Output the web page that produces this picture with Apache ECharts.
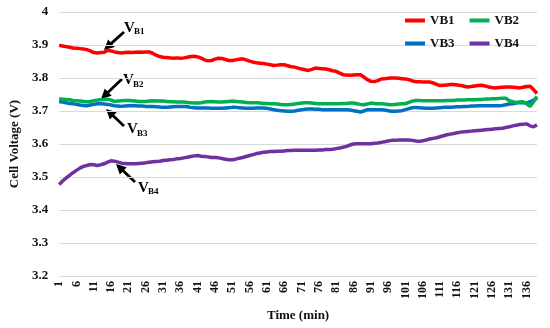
<!DOCTYPE html>
<html><head><meta charset="utf-8">
<script src="https://cdn.jsdelivr.net/npm/echarts@6/dist/echarts.min.js"></script>
<style>html,body{margin:0;padding:0;background:#fff}#c{width:550px;height:328px}</style>
</head><body><div id="c"></div>
<script>
const categories = Array.from({length:139}, (_, i) => String(i + 1));
const seriesNames = ['VB1','VB2','VB3','VB4'];
const vb1 = [
3.899,3.897,3.895,3.893,3.891,3.890,3.889,3.888,3.886,3.882,
3.877,3.876,3.877,3.878,3.884,3.882,3.879,3.877,3.876,3.877,
3.878,3.877,3.878,3.879,3.878,3.879,3.879,3.875,3.869,3.865,
3.863,3.862,3.861,3.860,3.861,3.860,3.861,3.863,3.865,3.866,
3.864,3.860,3.855,3.852,3.853,3.857,3.860,3.859,3.856,3.853,
3.853,3.855,3.857,3.858,3.855,3.851,3.848,3.846,3.845,3.844,
3.842,3.840,3.838,3.839,3.840,3.840,3.837,3.834,3.833,3.830,
3.827,3.825,3.823,3.826,3.830,3.829,3.828,3.827,3.825,3.822,
3.820,3.815,3.810,3.809,3.808,3.809,3.810,3.810,3.803,3.795,
3.790,3.789,3.792,3.797,3.798,3.799,3.800,3.800,3.799,3.798,
3.797,3.795,3.791,3.789,3.789,3.788,3.788,3.788,3.785,3.781,
3.777,3.778,3.779,3.780,3.780,3.779,3.777,3.775,3.773,3.774,
3.776,3.777,3.778,3.776,3.773,3.771,3.770,3.771,3.772,3.773,
3.773,3.772,3.771,3.770,3.772,3.774,3.775,3.765,3.753];
const vb2 = [
3.737,3.736,3.735,3.734,3.732,3.731,3.730,3.729,3.728,3.729,
3.731,3.733,3.734,3.735,3.736,3.733,3.729,3.730,3.731,3.732,
3.732,3.731,3.730,3.729,3.729,3.729,3.730,3.731,3.730,3.730,
3.730,3.729,3.728,3.728,3.727,3.727,3.727,3.726,3.725,3.724,
3.724,3.725,3.727,3.728,3.729,3.728,3.727,3.727,3.728,3.729,
3.730,3.729,3.728,3.727,3.726,3.725,3.725,3.725,3.724,3.723,
3.723,3.722,3.722,3.721,3.720,3.719,3.719,3.720,3.721,3.723,
3.724,3.725,3.725,3.724,3.723,3.722,3.722,3.722,3.722,3.722,
3.722,3.722,3.723,3.723,3.724,3.724,3.722,3.720,3.719,3.721,
3.724,3.723,3.722,3.722,3.721,3.720,3.719,3.720,3.721,3.722,
3.722,3.726,3.730,3.732,3.732,3.731,3.731,3.731,3.731,3.731,
3.731,3.731,3.732,3.732,3.732,3.733,3.733,3.733,3.734,3.734,
3.734,3.735,3.735,3.736,3.736,3.737,3.737,3.738,3.739,3.739,
3.731,3.728,3.726,3.727,3.728,3.722,3.714,3.728,3.744];
const vb3 = [
3.729,3.727,3.725,3.723,3.722,3.720,3.718,3.717,3.716,3.718,
3.720,3.722,3.722,3.721,3.720,3.718,3.716,3.715,3.714,3.715,
3.716,3.716,3.716,3.715,3.715,3.714,3.714,3.714,3.713,3.712,
3.711,3.711,3.712,3.713,3.714,3.714,3.714,3.713,3.711,3.710,
3.709,3.709,3.709,3.709,3.708,3.708,3.708,3.708,3.709,3.710,
3.711,3.711,3.710,3.709,3.708,3.708,3.708,3.709,3.709,3.709,
3.708,3.706,3.704,3.702,3.701,3.700,3.699,3.699,3.700,3.702,
3.704,3.705,3.706,3.706,3.705,3.705,3.704,3.704,3.704,3.704,
3.704,3.704,3.704,3.704,3.703,3.701,3.699,3.697,3.700,3.704,
3.704,3.704,3.704,3.704,3.703,3.701,3.699,3.699,3.700,3.701,
3.704,3.707,3.710,3.711,3.710,3.709,3.708,3.708,3.708,3.709,
3.710,3.711,3.711,3.711,3.712,3.713,3.713,3.714,3.714,3.715,
3.715,3.716,3.716,3.716,3.716,3.716,3.716,3.716,3.717,3.719,
3.721,3.722,3.724,3.726,3.725,3.724,3.728,3.733,3.739];
const vb4 = [
3.477,3.488,3.497,3.505,3.513,3.520,3.527,3.532,3.535,3.538,
3.537,3.535,3.537,3.540,3.545,3.549,3.548,3.545,3.542,3.541,
3.540,3.540,3.540,3.541,3.542,3.543,3.545,3.546,3.547,3.548,
3.550,3.551,3.552,3.553,3.555,3.556,3.558,3.560,3.562,3.564,
3.565,3.563,3.562,3.561,3.559,3.559,3.558,3.556,3.554,3.552,
3.552,3.554,3.557,3.559,3.562,3.565,3.568,3.571,3.573,3.575,
3.576,3.577,3.577,3.578,3.578,3.579,3.580,3.580,3.581,3.581,
3.581,3.581,3.581,3.581,3.581,3.582,3.582,3.583,3.583,3.584,
3.586,3.588,3.590,3.593,3.597,3.600,3.601,3.601,3.601,3.601,
3.601,3.602,3.603,3.605,3.607,3.609,3.611,3.611,3.612,3.612,
3.612,3.612,3.611,3.609,3.608,3.610,3.612,3.615,3.617,3.619,
3.622,3.625,3.628,3.630,3.632,3.634,3.636,3.637,3.638,3.639,
3.640,3.641,3.642,3.643,3.644,3.645,3.646,3.647,3.648,3.650,
3.652,3.655,3.657,3.659,3.660,3.661,3.655,3.652,3.658];
const colors = ['#ff0000','#00b050','#0070c0','#7030a0'];
const FONT = '"Liberation Serif", "Times New Roman", serif';

function arrow(tip, tail){
  const dx = tip[0]-tail[0], dy = tip[1]-tail[1];
  const L = Math.sqrt(dx*dx+dy*dy), ux = dx/L, uy = dy/L;
  const hl = 10, hw = 5;
  const bx = tip[0]-ux*hl, by = tip[1]-uy*hl;
  return [
    {type:'line', shape:{x1:tail[0], y1:tail[1], x2:bx+ux*2, y2:by+uy*2}, style:{stroke:'#000', lineWidth:2.8}},
    {type:'polygon', shape:{points:[[tip[0],tip[1]],[bx-uy*hw,by+ux*hw],[bx+uy*hw,by-ux*hw]]}, style:{fill:'#000'}}
  ];
}
function label(x, y, sub){
  return [
    {type:'text', x:x, y:y, style:{text:'V', font:'bold 15px '+FONT, fill:'#000', textVerticalAlign:'middle'}},
    {type:'text', x:x+10, y:y+4, style:{text:sub, font:'bold 9px '+FONT, fill:'#000', textVerticalAlign:'middle'}}
  ];
}
const graphics = [].concat(
  arrow([104,50],[124,32]), label(124,28,'B1'),
  arrow([101,99],[122,79]), label(123,80.5,'B2'),
  arrow([106,109],[124,126]), label(127,129.5,'B3'),
  arrow([116,164],[135,182]), label(138,188,'B4')
);

const chart = echarts.init(document.getElementById('c'));
const data = [vb1, vb2, vb3, vb4];
chart.setOption({
  animation:false,
  color: colors,
  grid:{left:55, right:13, top:12, bottom:52},
  legend:[
    {data:['VB1','VB2'], left:400, top:9, icon:'rect', itemWidth:20, itemHeight:4, itemGap:15,
     textStyle:{fontFamily:FONT, fontWeight:'bold', fontSize:13, color:'#111'}},
    {data:['VB3','VB4'], left:400, top:32, icon:'rect', itemWidth:20, itemHeight:4, itemGap:15,
     textStyle:{fontFamily:FONT, fontWeight:'bold', fontSize:13, color:'#111'}}
  ],
  xAxis:{
    type:'category', data:categories, boundaryGap:false,
    name:'Time (min)', nameLocation:'middle', nameGap:33,
    nameTextStyle:{fontFamily:FONT, fontWeight:'bold', fontSize:13, color:'#111'},
    axisLine:{show:false}, axisTick:{show:false},
    axisLabel:{interval:4, rotate:90, fontFamily:FONT, fontWeight:'bold', fontSize:12, color:'#111', margin:5},
    splitLine:{show:false}
  },
  yAxis:{
    type:'value', min:3.2, max:4, interval:0.1,
    name:'Cell Voltage (V)', nameLocation:'middle', nameGap:30,
    nameTextStyle:{fontFamily:FONT, fontWeight:'bold', fontSize:13, color:'#111'},
    axisLine:{show:false}, axisTick:{show:false},
    axisLabel:{fontFamily:FONT, fontWeight:'bold', fontSize:13, color:'#111', margin:11,
      formatter: v => String(Math.round(v*10)/10)},
    splitLine:{lineStyle:{color:'#d9d9d9', width:1}}
  },
  series: seriesNames.map((n, k) => ({
    name:n, type:'line', data:data[k], showSymbol:false, symbol:'none',
    lineStyle:{width:3.5, color:colors[k]}, z: 10 - k
  })),
  graphic: graphics
});
</script></body></html>
